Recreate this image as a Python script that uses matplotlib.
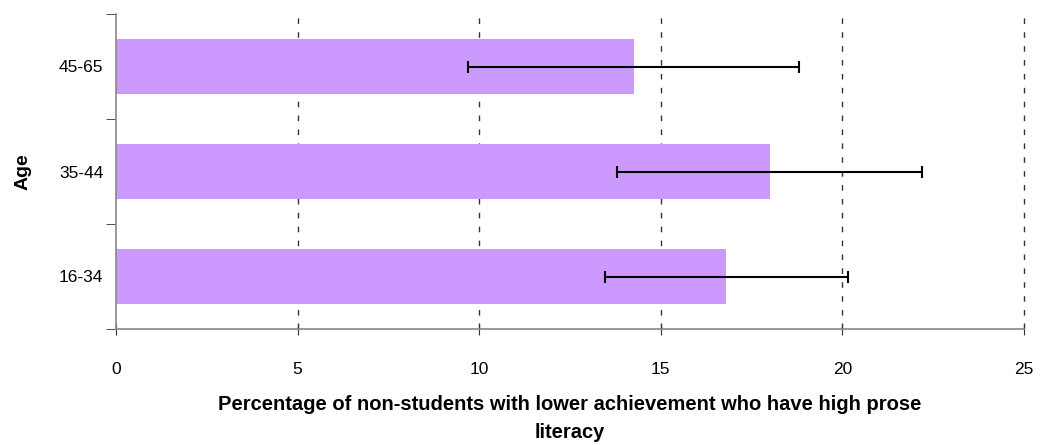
import matplotlib.pyplot as plt

plt.rcParams['font.family'] = ['Liberation Sans', 'DejaVu Sans']

ages = ['16-34', '35-44', '45-65']
pct = [16.8, 18.0, 14.25]
err = [3.35, 4.2, 4.55]

fig = plt.figure(figsize=(10.4, 4.45), dpi=100)
ax = fig.add_axes([116 / 1040, 1 - 329 / 445, 908 / 1040, 315 / 445])

ax.barh(range(len(ages)), pct, height=0.52, color='#cc99ff', zorder=2)
ax.errorbar(pct, range(len(ages)), xerr=err, fmt='none', ecolor='black',
            elinewidth=1.5, capsize=4, capthick=1.5, zorder=3)

ax.set_xlim(0, 25)
ax.set_ylim(-0.5, len(ages) - 0.5)
ax.set_xticks(range(0, 26, 5))
ax.set_yticks(range(len(ages)))
ax.set_yticklabels(ages)
ax.set_yticks([-0.5, 0.5, 1.5, 2.5], minor=True)
ax.tick_params(axis='y', which='major', length=0, pad=9, labelsize=12.5)
ax.tick_params(axis='y', which='minor', length=7, color='#333333')
ax.tick_params(axis='x', direction='inout', length=8, pad=20, labelsize=12.5, color='#333333')

for v in range(5, 26, 5):
    ax.axvline(v, color='#333333', linestyle=(0, (4, 6)), linewidth=1, zorder=1, clip_on=False)

for s in ['top', 'right']:
    ax.spines[s].set_visible(False)
for s in ['left', 'bottom']:
    ax.spines[s].set_color('#888888')
    ax.spines[s].set_linewidth(1.2)

ax.set_xlabel('Percentage of non-students with lower achievement who have high prose\nliteracy',
              fontsize=14.5, fontweight='bold', labelpad=13, linespacing=1.6)
ax.set_ylabel('Age', fontsize=14, fontweight='bold', labelpad=20)

fig.savefig('out.png', dpi=100)
